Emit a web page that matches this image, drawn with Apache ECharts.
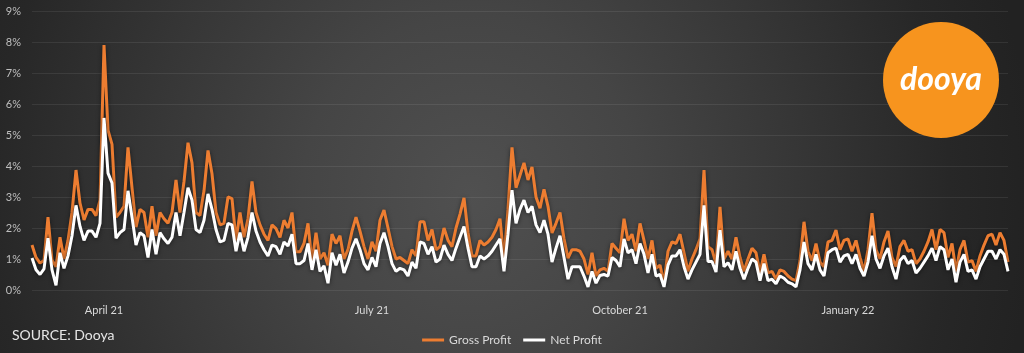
<!DOCTYPE html>
<html><head><meta charset="utf-8">
<script src="https://cdn.jsdelivr.net/npm/echarts@6/dist/echarts.min.js"></script>
<style>
html,body{margin:0;padding:0;width:1024px;height:353px;overflow:hidden;background:#262626;}
#c{width:1024px;height:353px;background:radial-gradient(ellipse 55% 170% at 46% 55%, #505050 0%, #454545 30%, #363636 58%, #272727 85%, #222222 100%);}
</style></head><body><div id="c"></div>
<script>
const grossProfit = [
1.45,1.05,0.87,0.95,2.35,0.97,0.75,1.7,1.0,1.6,
2.5,3.87,2.8,2.26,2.6,2.6,2.4,2.9,7.9,5.16,
4.7,2.35,2.5,2.7,4.6,3.3,2.03,2.6,2.5,1.7,
2.7,1.75,2.5,2.3,2.15,2.5,3.55,2.5,3.5,4.75,
4.1,2.5,2.4,3.2,4.5,3.75,2.5,2.1,2.15,3.0,
2.95,1.6,2.5,1.7,2.3,3.5,2.5,2.1,1.8,1.6,
2.1,1.98,1.7,2.25,2.0,2.5,1.23,1.23,1.5,2.15,
0.87,1.85,1.0,1.2,0.8,1.8,1.5,1.75,1.0,1.3,
1.9,2.35,1.9,1.4,1.0,1.55,1.25,2.25,2.58,2.0,
1.4,1.0,1.05,0.95,0.85,1.3,1.1,2.2,2.2,1.6,
1.95,1.3,1.4,2.0,1.6,1.4,2.0,2.45,2.97,1.85,
1.1,1.1,1.6,1.45,1.55,1.7,1.95,2.3,0.97,2.6,
4.6,3.3,3.7,4.1,3.55,3.97,3.0,2.64,3.25,2.7,
1.84,2.15,2.5,1.65,1.03,1.3,1.3,1.25,1.0,0.5,
1.2,0.45,0.65,0.7,0.6,1.5,1.35,1.2,2.3,1.6,
1.8,1.25,2.15,1.6,1.0,1.6,0.7,0.8,0.22,1.25,
1.55,1.5,1.8,1.2,0.6,1.0,1.3,1.65,3.87,1.4,
1.3,0.85,2.68,1.0,1.25,1.0,1.7,1.05,0.6,1.0,
1.35,1.2,0.55,1.15,0.55,0.6,0.35,0.65,0.6,0.45,
0.35,0.3,0.95,2.2,1.25,0.95,1.5,0.9,0.75,1.55,
1.6,1.93,1.3,1.6,1.65,1.25,1.6,1.05,0.6,1.3,
2.48,1.3,1.0,1.55,1.9,1.05,0.75,1.4,1.6,1.25,
1.3,0.85,1.0,1.25,1.55,1.95,1.3,1.95,1.85,1.05,
1.5,0.6,1.3,1.6,0.9,0.95,0.6,1.1,1.45,1.75,
1.8,1.45,1.85,1.6,0.9
];
const netProfit = [
1.03,0.65,0.5,0.68,1.67,0.65,0.15,1.2,0.7,1.1,
1.75,2.73,2.05,1.6,1.9,1.9,1.7,2.15,5.55,3.77,
3.45,1.67,1.85,1.95,3.2,2.35,1.45,1.85,1.75,1.05,
1.95,1.15,1.85,1.65,1.5,1.7,2.5,1.75,2.5,3.3,
2.9,1.95,1.85,2.25,3.1,2.6,1.95,1.55,1.6,2.15,
2.1,1.25,1.85,1.25,1.7,2.5,1.9,1.55,1.3,1.1,
1.45,1.4,1.15,1.55,1.42,1.8,0.85,0.85,0.95,1.5,
0.65,1.3,0.6,0.78,0.22,1.2,0.8,1.15,0.55,0.9,
1.35,1.65,1.3,0.85,0.65,1.05,0.75,1.5,1.85,1.4,
0.85,0.6,0.7,0.65,0.45,0.9,0.7,1.55,1.5,1.15,
1.4,0.9,1.0,1.45,1.15,0.95,1.35,1.7,2.05,1.35,
0.75,0.75,1.1,1.0,1.1,1.25,1.45,1.65,0.6,1.8,
3.22,2.15,2.6,2.9,2.5,2.7,2.1,1.85,2.25,1.8,
0.9,1.35,1.75,1.05,0.35,0.75,0.75,0.75,0.45,0.1,
0.6,0.22,0.47,0.5,0.45,1.05,0.95,0.75,1.65,1.2,
1.3,0.85,1.5,1.15,0.55,1.15,0.45,0.5,0.1,0.8,
1.1,1.1,1.3,0.75,0.35,0.65,0.9,1.15,2.73,0.92,
0.92,0.58,1.93,0.75,0.88,0.65,1.25,0.7,0.35,0.7,
1.0,0.9,0.3,0.85,0.3,0.35,0.2,0.45,0.38,0.25,
0.2,0.1,0.65,1.55,0.85,0.65,1.15,0.65,0.45,1.2,
1.3,1.35,0.9,1.1,1.15,0.85,1.15,0.7,0.45,0.9,
1.75,1.0,0.7,1.1,1.35,0.75,0.35,0.95,1.1,0.85,
0.95,0.55,0.7,0.9,1.1,1.35,0.95,1.4,1.3,0.65,
1.0,0.25,0.9,1.15,0.6,0.65,0.35,0.75,1.0,1.25,
1.25,1.0,1.3,1.15,0.6
];
const tickLabels = ['April 21','July 21','October 21','January 22'];
const tickIndex = [18, 85, 147, 204];
const seriesNames = ['Gross Profit','Net Profit'];
const categories = grossProfit.map((_, i) => String(i));

const chart = echarts.init(document.getElementById('c'), null, {renderer:'canvas'});
const FONT = 'Lato, "Open Sans", sans-serif';
chart.setOption({
  backgroundColor: 'transparent',
  animation: false,
  grid: {left: 32, right: 16, top: 11, bottom: 63},
  xAxis: {
    type: 'category', data: categories, boundaryGap: false,
    axisLine: {show: false}, axisTick: {show: false}, splitLine: {show: false},
    axisLabel: {
      interval: (i) => tickIndex.indexOf(i) >= 0,
      formatter: (v, i) => { const j = tickIndex.indexOf(i); return j >= 0 ? tickLabels[j] : ''; },
      color: '#d9d9d9', fontSize: 11, fontFamily: FONT, margin: 15
    }
  },
  yAxis: {
    type: 'value', min: 0, max: 9, interval: 1,
    axisLine: {show: false}, axisTick: {show: false},
    splitLine: {lineStyle: {color: 'rgba(255,255,255,0.08)', width: 1}},
    axisLabel: {formatter: '{value}%', color: '#bfbfbf', fontSize: 11, fontFamily: FONT, margin: 11}
  },
  legend: {
    data: seriesNames, left: 'center', top: 329,
    icon: 'rect', itemWidth: 22, itemHeight: 3, itemGap: 12,
    textStyle: {color: '#d9d9d9', fontSize: 12, fontFamily: FONT}
  },
  graphic: [
    {type: 'text', left: 12, top: 328, style: {text: 'SOURCE: Dooya', fill: '#e6e6e6', font: '14px ' + FONT}},
    {type: 'circle', shape: {cx: 941, cy: 80, r: 58}, style: {fill: '#F7941E'}, z: 10},
    {type: 'text', x: 941, y: 80, z: 11, style: {text: 'dooya', fill: '#ffffff', font: 'italic bold 32px ' + FONT, align: 'center', verticalAlign: 'middle'}}
  ],
  series: [
    {name: seriesNames[0], type: 'line', data: grossProfit, symbol: 'none', color: '#ED7D31',
     lineStyle: {width: 3, color: '#ED7D31', shadowBlur: 4, shadowColor: 'rgba(0,0,0,0.5)', shadowOffsetY: 1}},
    {name: seriesNames[1], type: 'line', data: netProfit, symbol: 'none', color: '#FFFFFF',
     lineStyle: {width: 3, color: '#FFFFFF', shadowBlur: 4, shadowColor: 'rgba(0,0,0,0.5)', shadowOffsetY: 1}}
  ]
});
</script></body></html>
